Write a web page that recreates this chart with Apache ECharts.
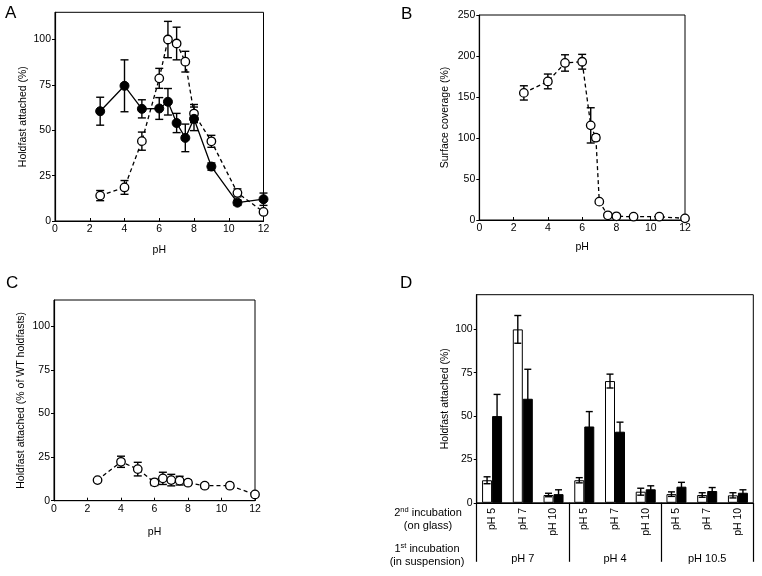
<!DOCTYPE html>
<html><head><meta charset="utf-8">
<script src="https://cdn.jsdelivr.net/npm/echarts@6/dist/echarts.min.js"></script>
<style>html,body{margin:0;padding:0;background:#fff}#c{width:762px;height:576px}</style>
</head><body><div id="c"></div><script>
// ---- data ----
const phA = [2.6, 4, 5, 6, 6.5, 7, 7.5, 8, 9, 10.5, 12];
const openA = [14, 18.5, 44, 78.6, 100, 97.8, 87.8, 59.2, 43.9, 15.5, 5];
const openAErr = [2.8, 3.8, 5, 5.5, 10, 9, 5.7, 5, 3.3, 2.2, 0];
const filledA = [60.5, 74.5, 61.8, 62, 65.7, 54, 45.8, 56.3, 30, 10.1, 12];
const filledAErr = [7.7, 14.3, 5, 6, 7.3, 5.3, 7.6, 6.5, 2, 1.5, 3.4];
const phB = [2.6, 4, 5, 6, 6.5, 6.8, 7, 7.5, 8, 9, 10.5, 12];
const covB = [155, 169, 191.5, 193, 115.4, 100.4, 22.4, 5.7, 4.5, 4, 4, 2];
const covBErr = [8.7, 9, 10, 9, 21.5, 3.5, 0, 0, 0, 0, 0, 0];
const phC = [2.6, 4, 5, 6, 6.5, 7, 7.5, 8, 9, 10.5, 12];
const valC = [11.8, 22.3, 18.1, 10.5, 12.8, 11.8, 11.5, 10.3, 8.6, 8.6, 3.6];
const valCErr = [0.8, 3.2, 3.9, 1.8, 3.5, 3.3, 2.5, 1.5, 1.3, 1.4, 0];
const catD = ['pH 5', 'pH 7', 'pH 10', 'pH 5', 'pH 7', 'pH 10', 'pH 5', 'pH 7', 'pH 10'];
const groupD = ['pH 7', 'pH 4', 'pH 10.5'];
const whiteD = [13, 100, 4.5, 13, 70.2, 6.4, 5, 4.5, 4.3];
const whiteDErr = [2, 8, 1, 1.5, 4, 2, 1.3, 1.3, 1.5];
const blackD = [50, 60, 5, 44, 41, 7.8, 9.3, 6.8, 5.8];
const blackDErr = [12.5, 17, 2.5, 8.6, 5.5, 2, 2.5, 2, 1.7];
const yTicksPct = [0, 25, 50, 75, 100];
const yTicksB = [0, 50, 100, 150, 200, 250];

const FONT = '"Liberation Sans", Arial, sans-serif';
const SYM = 8.5;
const chart = echarts.init(document.getElementById('c'), null, {renderer: 'canvas'});

function zip3(xs, ys, es) { return xs.map((x, i) => [x, ys[i], es[i]]); }

function errRender(dx, cap) {
  return function (params, api) {
    const x = api.value(0), y = api.value(1), e = api.value(2);
    if (!e) return null;
    const p1 = api.coord([x, y + e]), p2 = api.coord([x, y - e]);
    let cx = p1[0];
    if (dx) cx += dx;
    const st = {stroke: '#000', lineWidth: 1.4};
    return {type: 'group', children: [
      {type: 'line', shape: {x1: cx, y1: p1[1], x2: cx, y2: p2[1]}, style: st},
      {type: 'line', shape: {x1: cx - cap, y1: p1[1], x2: cx + cap, y2: p1[1]}, style: st},
      {type: 'line', shape: {x1: cx - cap, y1: p2[1], x2: cx + cap, y2: p2[1]}, style: st}
    ]};
  };
}

const grids = [
  {left: 55, top: 12.3, width: 208.5, height: 208.7},
  {left: 479.3, top: 15, width: 205.7, height: 205},
  {left: 54, top: 300, width: 201, height: 200.7},
  {left: 476.7, top: 294.7, width: 276.6, height: 208.1}
].map(g => Object.assign({show: true, borderColor: '#000', borderWidth: 1, backgroundColor: 'transparent'}, g));

function phAxis(gi, gap) {
  return {
    type: 'value', gridIndex: gi, min: 0, max: 12, interval: 2,
    name: 'pH', nameLocation: 'middle', nameGap: gap,
    nameTextStyle: {fontFamily: FONT, fontSize: 10.5, color: '#000'},
    axisLine: {show: true, lineStyle: {color: '#000', width: 1.2}},
    axisTick: {show: true, inside: true, length: 3, lineStyle: {color: '#000'}},
    axisLabel: {fontFamily: FONT, fontSize: 10.5, color: '#000', margin: 3},
    splitLine: {show: false}
  };
}
function valAxis(gi, max, ticks, name, gap) {
  return {
    type: 'value', gridIndex: gi, min: 0, max: max,
    name: name, nameLocation: 'middle', nameGap: gap, nameRotate: 90,
    nameTextStyle: {fontFamily: FONT, fontSize: 10.5, color: '#000'},
    axisLine: {show: true, lineStyle: {color: '#000', width: 1.2}},
    axisTick: {show: true, length: 3, customValues: ticks, lineStyle: {color: '#000'}},
    axisLabel: {fontFamily: FONT, fontSize: 10.5, color: '#000', margin: 4, customValues: ticks},
    splitLine: {show: false}
  };
}
function openLine(xi, xs, ys) {
  return {type: 'line', xAxisIndex: xi, yAxisIndex: xi, z: 2, data: xs.map((x, i) => [x, ys[i]]),
    symbol: 'circle', symbolSize: SYM, lineStyle: {color: '#000', width: 1.3, type: [4, 3]},
    itemStyle: {color: '#fff', borderColor: '#000', borderWidth: 1.3}};
}

const richLbl = {
  n: {fontFamily: FONT, fontSize: 11, lineHeight: 13.5},
  s: {fontFamily: FONT, fontSize: 7.5, verticalAlign: 'top', lineHeight: 13.5}
};

const option = {
  animation: false,
  backgroundColor: '#fff',
  grid: grids,
  xAxis: [
    phAxis(0, 24),
    phAxis(1, 22),
    phAxis(2, 26),
    {
      type: 'category', gridIndex: 3, data: catD, position: 'bottom',
      axisLine: {show: true, lineStyle: {color: '#000', width: 1.2}},
      axisTick: {show: false},
      axisLabel: {interval: 0, rotate: 90, fontFamily: FONT, fontSize: 10.5, color: '#000', margin: 5}
    },
    {
      type: 'category', gridIndex: 3, data: groupD, position: 'bottom', offset: 0,
      axisLine: {show: false},
      axisTick: {show: true, length: 59, lineStyle: {color: '#000', width: 1.2}},
      axisLabel: {interval: 0, fontFamily: FONT, fontSize: 11, color: '#000', margin: 51}
    }
  ],
  yAxis: [
    valAxis(0, 115, yTicksPct, 'Holdfast attached (%)', 26),
    valAxis(1, 250, yTicksB, 'Surface coverage (%)', 29),
    valAxis(2, 115, yTicksPct, 'Holdfast attached (% of WT holdfasts)', 27),
    valAxis(3, 120, yTicksPct, 'Holdfast attached (%)', 26)
  ],
  graphic: [
    {type: 'text', left: 5, top: 5, style: {text: 'A', font: '17px ' + FONT, fill: '#000'}},
    {type: 'text', left: 401, top: 6, style: {text: 'B', font: '17px ' + FONT, fill: '#000'}},
    {type: 'text', left: 6, top: 275, style: {text: 'C', font: '17px ' + FONT, fill: '#000'}},
    {type: 'text', left: 400, top: 275, style: {text: 'D', font: '17px ' + FONT, fill: '#000'}},
    {type: 'text', x: 428, y: 506, style: {
      text: '{n|2}{s|nd}{n| incubation}\n{n|(on glass)}', align: 'center', fill: '#000', rich: richLbl
    }},
    {type: 'text', x: 427, y: 542, style: {
      text: '{n|1}{s|st}{n| incubation}\n{n|(in suspension)}', align: 'center', fill: '#000', rich: richLbl
    }}
  ],
  series: [
    // Panel A
    {type: 'custom', xAxisIndex: 0, yAxisIndex: 0, z: 1, renderItem: errRender(0, 4), data: zip3(phA, openA, openAErr)},
    {type: 'custom', xAxisIndex: 0, yAxisIndex: 0, z: 1, renderItem: errRender(0, 4), data: zip3(phA, filledA, filledAErr)},
    openLine(0, phA, openA),
    {type: 'line', xAxisIndex: 0, yAxisIndex: 0, z: 3, data: phA.map((x, i) => [x, filledA[i]]),
      symbol: 'circle', symbolSize: SYM + 0.5, lineStyle: {color: '#000', width: 1.3},
      itemStyle: {color: '#000', borderColor: '#000', borderWidth: 1}},
    // Panel B
    {type: 'custom', xAxisIndex: 1, yAxisIndex: 1, z: 1, renderItem: errRender(0, 4), data: zip3(phB, covB, covBErr)},
    openLine(1, phB, covB),
    // Panel C
    {type: 'custom', xAxisIndex: 2, yAxisIndex: 2, z: 1, renderItem: errRender(0, 4), data: zip3(phC, valC, valCErr)},
    openLine(2, phC, valC),
    // Panel D
    {type: 'bar', xAxisIndex: 3, yAxisIndex: 3, data: whiteD, barWidth: 10, barGap: '0%',
      itemStyle: {color: '#fff', borderColor: '#000', borderWidth: 1}},
    {type: 'bar', xAxisIndex: 3, yAxisIndex: 3, data: blackD, barWidth: 10, barGap: '0%',
      itemStyle: {color: '#000', borderColor: '#000', borderWidth: 1}},
    {type: 'custom', xAxisIndex: 3, yAxisIndex: 3, z: 5, renderItem: errRender(-5, 3.5), data: whiteD.map((v, i) => [i, v, whiteDErr[i]])},
    {type: 'custom', xAxisIndex: 3, yAxisIndex: 3, z: 5, renderItem: errRender(5, 3.5), data: blackD.map((v, i) => [i, v, blackDErr[i]])}
  ]
};
chart.setOption(option);
</script></body></html>
